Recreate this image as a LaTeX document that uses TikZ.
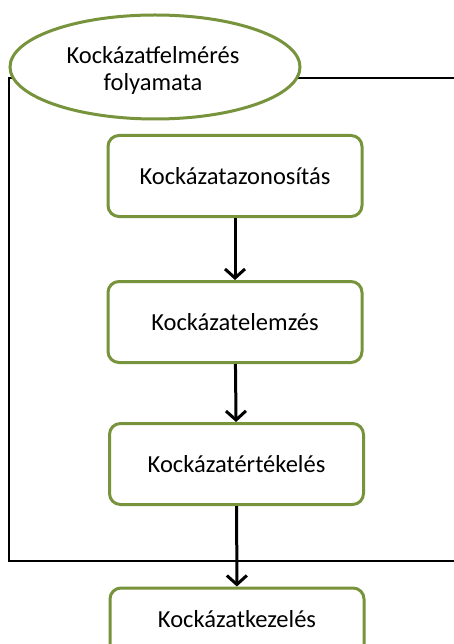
\documentclass[tikz,border=0pt]{standalone}
\usepackage{fontspec}
\setmainfont{Carlito}
\usetikzlibrary{arrows.meta,shapes.geometric}
\definecolor{boxgreen}{RGB}{119,147,60}
\tikzset{
  stepbox/.style={draw=boxgreen, line width=3pt, rounded corners=11pt, fill=white,
    minimum width=254pt, minimum height=81pt, font=\fontsize{24.5}{29}\selectfont},
  flow/.style={line width=3pt, -{Straight Barb[length=9pt,width=20pt,line width=3pt]}},
  frame/.style={line width=2pt}
}
\begin{document}
\begin{tikzpicture}[x=1pt,y=-1pt]
\useasboundingbox (0,0) rectangle (454,644);
\clip (0,0) rectangle (454,644);
% enclosing frame of the assessment process
\draw[frame] (520,78) -- (8.5,78) -- (8.5,561) -- (520,561);
% title ellipse
\node[ellipse, draw=boxgreen, line width=3pt, fill=white, minimum width=290pt, minimum height=104pt,
  inner sep=0pt] (title) at (155,67) {};
\node[align=center, font=\fontsize{24.5}{27}\selectfont, inner sep=0pt] (titletext) at (153,70)
  {Kockázatfelmérés\\folyamata};
% process steps
\node[stepbox] (s1) at (235,176) {Kockázatazonosítás};
\node[stepbox] (s2) at (235,322) {Kockázatelemzés};
\node[stepbox] (s3) at (236.5,464) {Kockázatértékelés};
\node[stepbox, text depth=20pt] (s4) at (237,628.5) {Kockázatkezelés};
% connectors
\draw[flow] (s1) -- (s2);
\draw[flow] (s2) -- (s3);
\draw[flow] (s3) -- (s4);
\end{tikzpicture}
\end{document}
